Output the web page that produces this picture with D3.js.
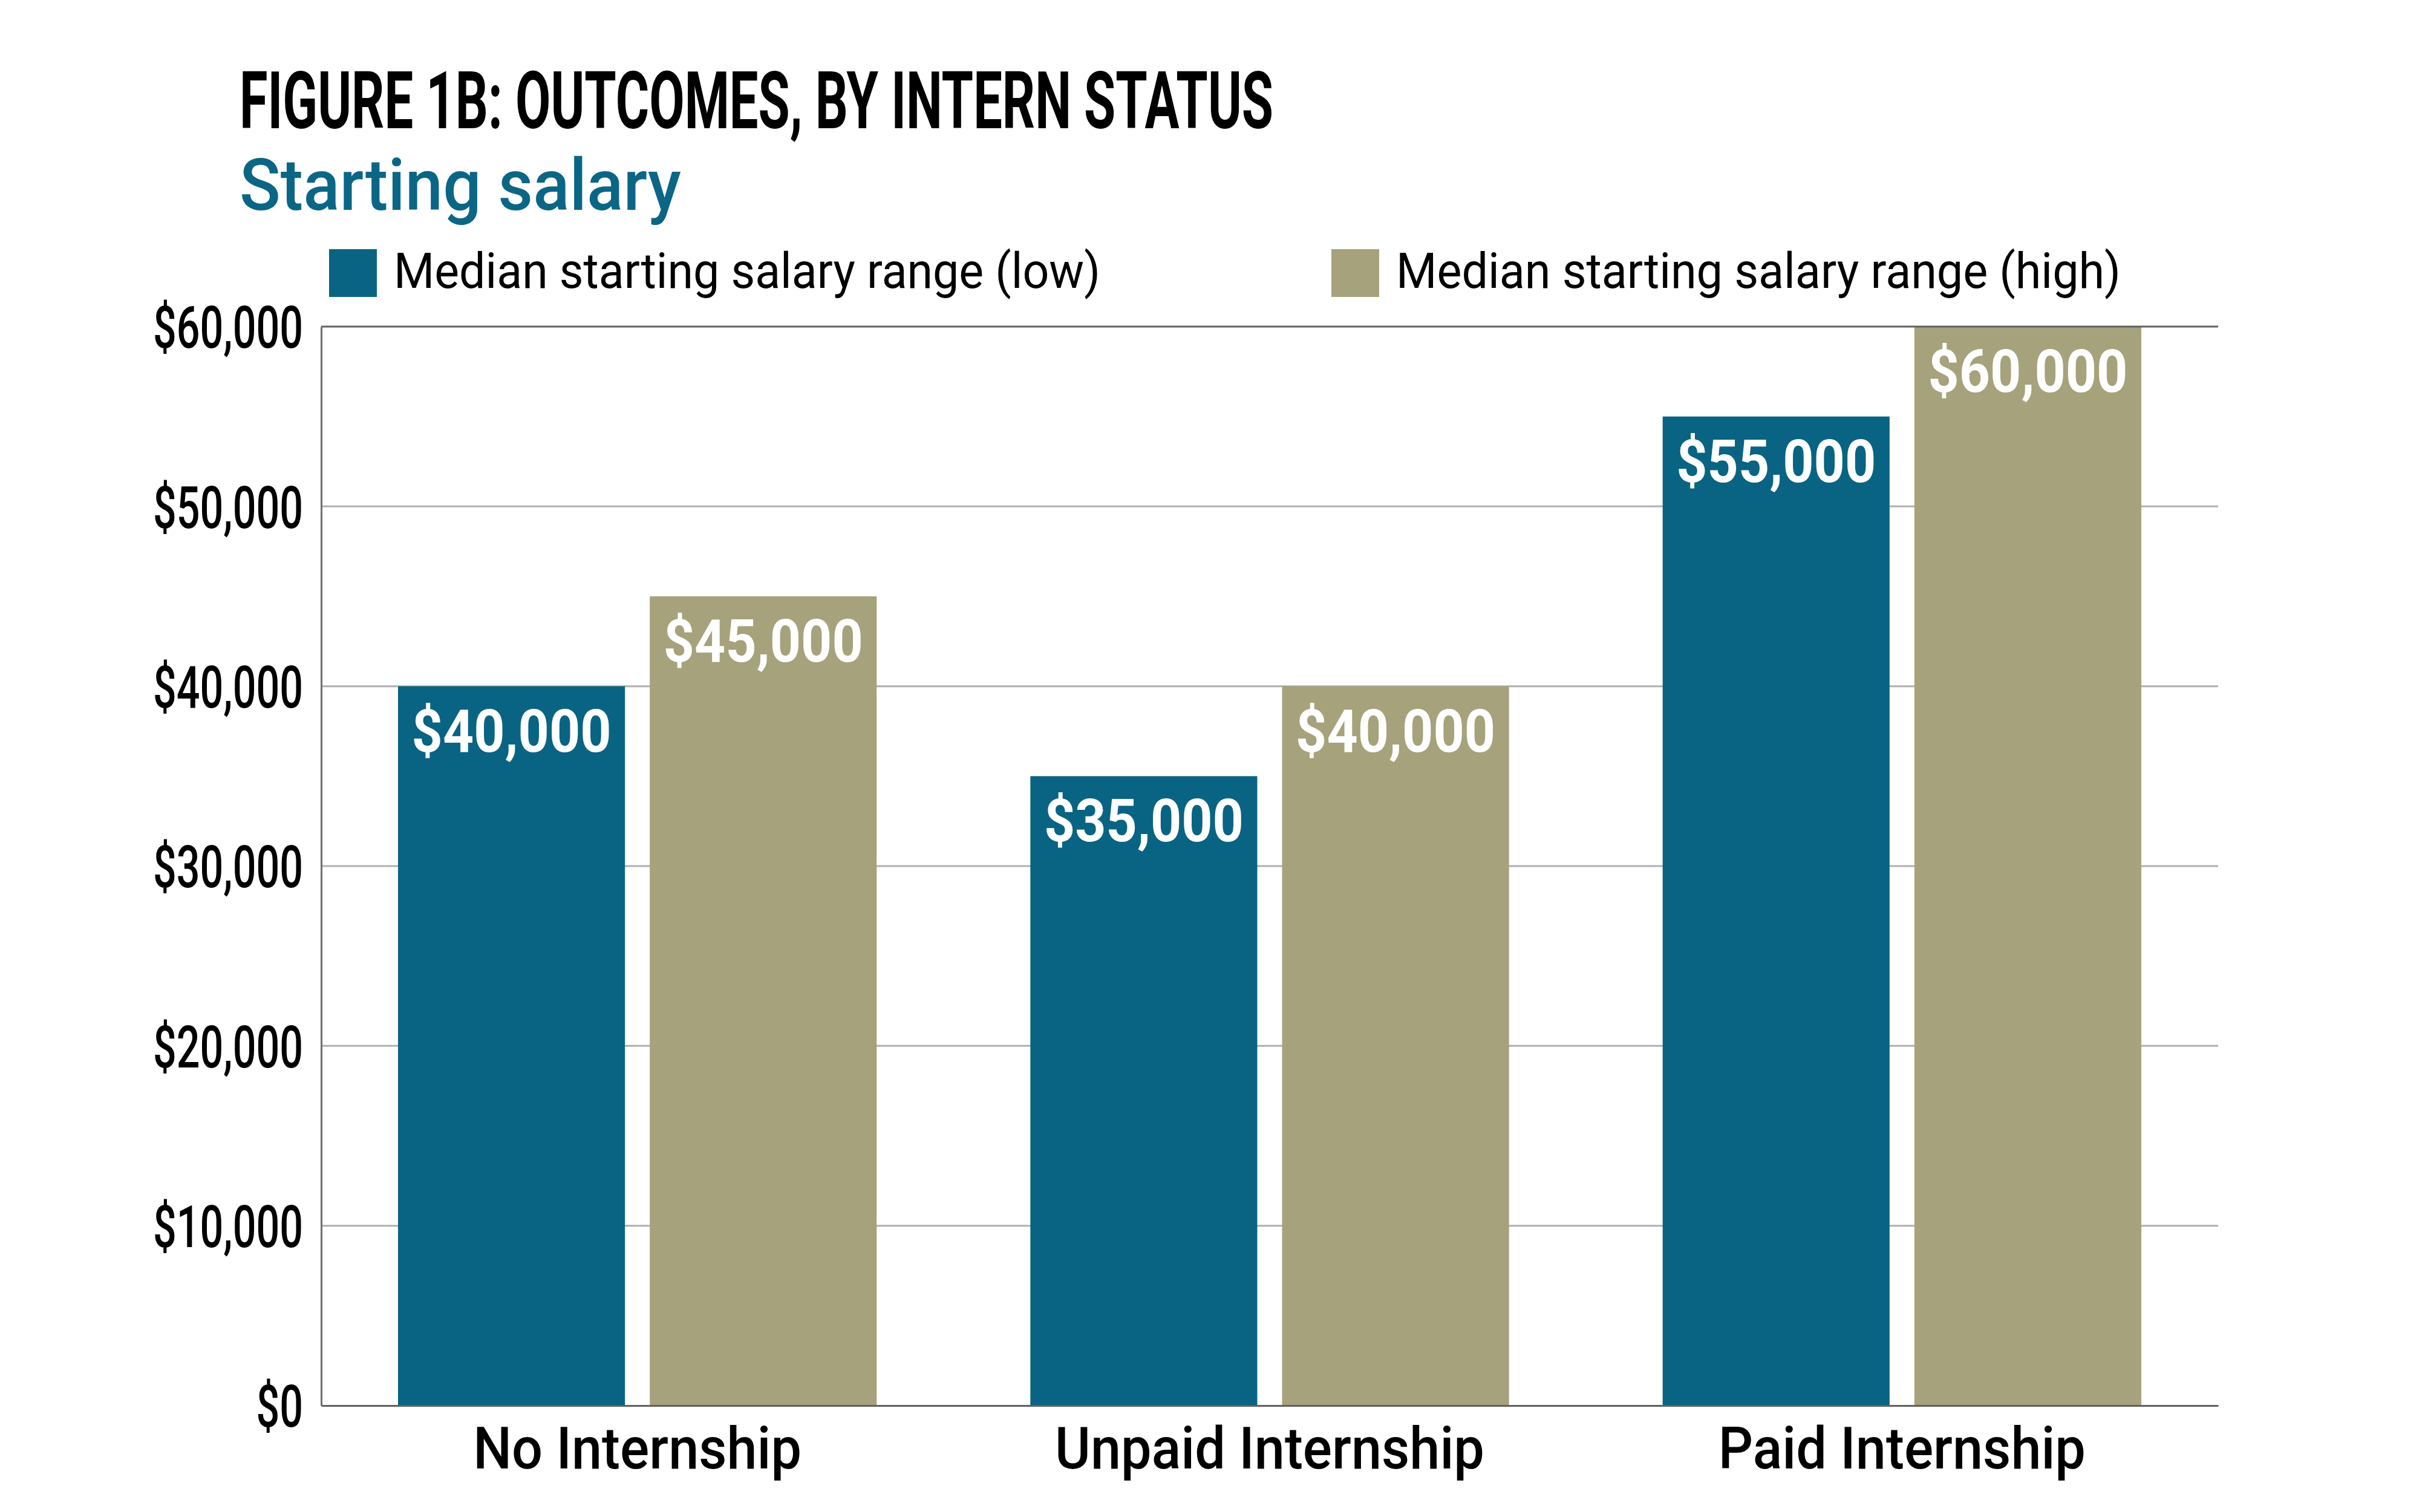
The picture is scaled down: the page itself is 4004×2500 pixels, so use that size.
<!DOCTYPE html>
<html><head><meta charset="utf-8">
<script src="https://cdn.jsdelivr.net/npm/d3@7"></script>
<style>html,body{margin:0;padding:0;background:#fff;}</style>
</head><body>
<script>
const categories = ["No Internship", "Unpaid Internship", "Paid Internship"];
const seriesNames = ["Median starting salary range (low)", "Median starting salary range (high)"];
const lowValues = [40000, 35000, 55000];
const highValues = [45000, 40000, 60000];
const yTicks = [0, 10000, 20000, 30000, 40000, 50000, 60000];
const colors = ["#086482", "#a6a27b"];

const W = 4004, H = 2500;
const FONT = "Roboto, 'Open Sans', sans-serif";
const svg = d3.select("body").append("svg").attr("width", W).attr("height", H)
  .style("font-family", FONT);

const plot = {left: 531, right: 3667, top: 540, bottom: 2324};

const x0 = d3.scaleBand().domain(categories).range([plot.left, plot.right])
  .paddingInner(0.243).paddingOuter(0.1215);
const x1 = d3.scaleBand().domain([0, 1]).range([0, x0.bandwidth()]).paddingInner(0.0986);
const y = d3.scaleLinear().domain([0, 60000]).range([plot.bottom, plot.top]);

function condense(sel, ratio) {
  sel.each(function() {
    const w = this.getComputedTextLength();
    d3.select(this).attr("textLength", w * ratio).attr("lengthAdjust", "spacingAndGlyphs");
  });
}
function fitTo(sel, width) {
  sel.attr("textLength", width).attr("lengthAdjust", "spacingAndGlyphs");
}

// Title
svg.append("text").attr("x", 396).attr("y", 212)
  .style("font-size", "131px").style("font-weight", 700).attr("fill", "#000")
  .text("FIGURE 1B: OUTCOMES, BY INTERN STATUS").call(fitTo, 1709);
svg.append("text").attr("x", 396).attr("y", 347)
  .style("font-size", "118px").style("font-weight", 500).attr("fill", "#0b6686")
  .text("Starting salary").call(fitTo, 730);

// Legend
const legendX = [544, 2201];
const legendW = [1168, 1198];
seriesNames.forEach((n, i) => {
  svg.append("rect").attr("x", legendX[i]).attr("y", 412).attr("width", 79).attr("height", 79)
    .attr("fill", colors[i]);
  svg.append("text").attr("x", legendX[i] + 107).attr("y", 476)
    .style("font-size", "82px").style("font-weight", 400).attr("fill", "#000")
    .text(n).call(fitTo, legendW[i]);
});

// Gridlines
const grid = svg.append("g");
grid.selectAll("line").data(yTicks.filter(t => t > 0 && t < 60000)).join("line")
  .attr("x1", plot.left).attr("x2", plot.right)
  .attr("y1", d => y(d)).attr("y2", d => y(d))
  .attr("stroke", "#b0b0b0").attr("stroke-width", 3);

// Bars
const groups = svg.append("g").selectAll("g").data(categories).join("g")
  .attr("transform", d => `translate(${x0(d)},0)`);
const barData = (c, ci) => [lowValues[ci], highValues[ci]].map((v, si) => ({v, si}));
groups.each(function(c, ci) {
  const g = d3.select(this);
  const d = barData(c, ci);
  g.selectAll("rect").data(d).join("rect")
    .attr("x", e => x1(e.si)).attr("width", x1.bandwidth())
    .attr("y", e => y(e.v)).attr("height", e => y(0) - y(e.v))
    .attr("fill", e => colors[e.si]);
  g.selectAll("text").data(d).join("text")
    .attr("x", e => x1(e.si) + x1.bandwidth() / 2).attr("y", e => y(e.v) + 108)
    .attr("text-anchor", "middle").attr("fill", "#fff")
    .style("font-size", "98px").style("font-weight", 700)
    .text(e => d3.format("$,")(e.v));
});

// Top line & axes
svg.append("line").attr("x1", plot.left).attr("x2", plot.right)
  .attr("y1", y(60000)).attr("y2", y(60000)).attr("stroke", "#606060").attr("stroke-width", 3);

const yAxis = svg.append("g").attr("transform", `translate(${plot.left},0)`)
  .call(d3.axisLeft(y).tickValues(yTicks).tickFormat(d3.format("$,")).tickSize(0).tickPadding(30));
yAxis.select(".domain").attr("stroke", "#707070").attr("stroke-width", 3);
yAxis.selectAll("text").style("font-size", "97px").style("font-family", FONT)
  .style("font-weight", 500).attr("fill", "#000").attr("dy", "0.36em");

const xAxis = svg.append("g").attr("transform", `translate(0,${plot.bottom})`)
  .call(d3.axisBottom(x0).tickSize(0).tickPadding(35));
xAxis.select(".domain").attr("stroke", "#606060").attr("stroke-width", 3);
xAxis.selectAll("text").style("font-size", "97px").style("font-family", FONT)
  .style("font-weight", 500).attr("fill", "#000").attr("dy", "0.71em");

// condense fonts to match the narrow original typeface
const ref60 = yAxis.selectAll("text").filter(d => d === 60000).node().getComputedTextLength();
yAxis.selectAll("text").call(condense, 248 / ref60);
const vRef = svg.selectAll("g text").filter(function() { return d3.select(this).text() === "$60,000" && d3.select(this).attr("fill") === "#fff"; }).node().getComputedTextLength();
groups.selectAll("text").call(condense, 330 / vRef);
const xRef = xAxis.selectAll("text").filter(d => d === "No Internship").node().getComputedTextLength();
xAxis.selectAll("text").call(condense, 543 / xRef);
</script>
</body></html>
